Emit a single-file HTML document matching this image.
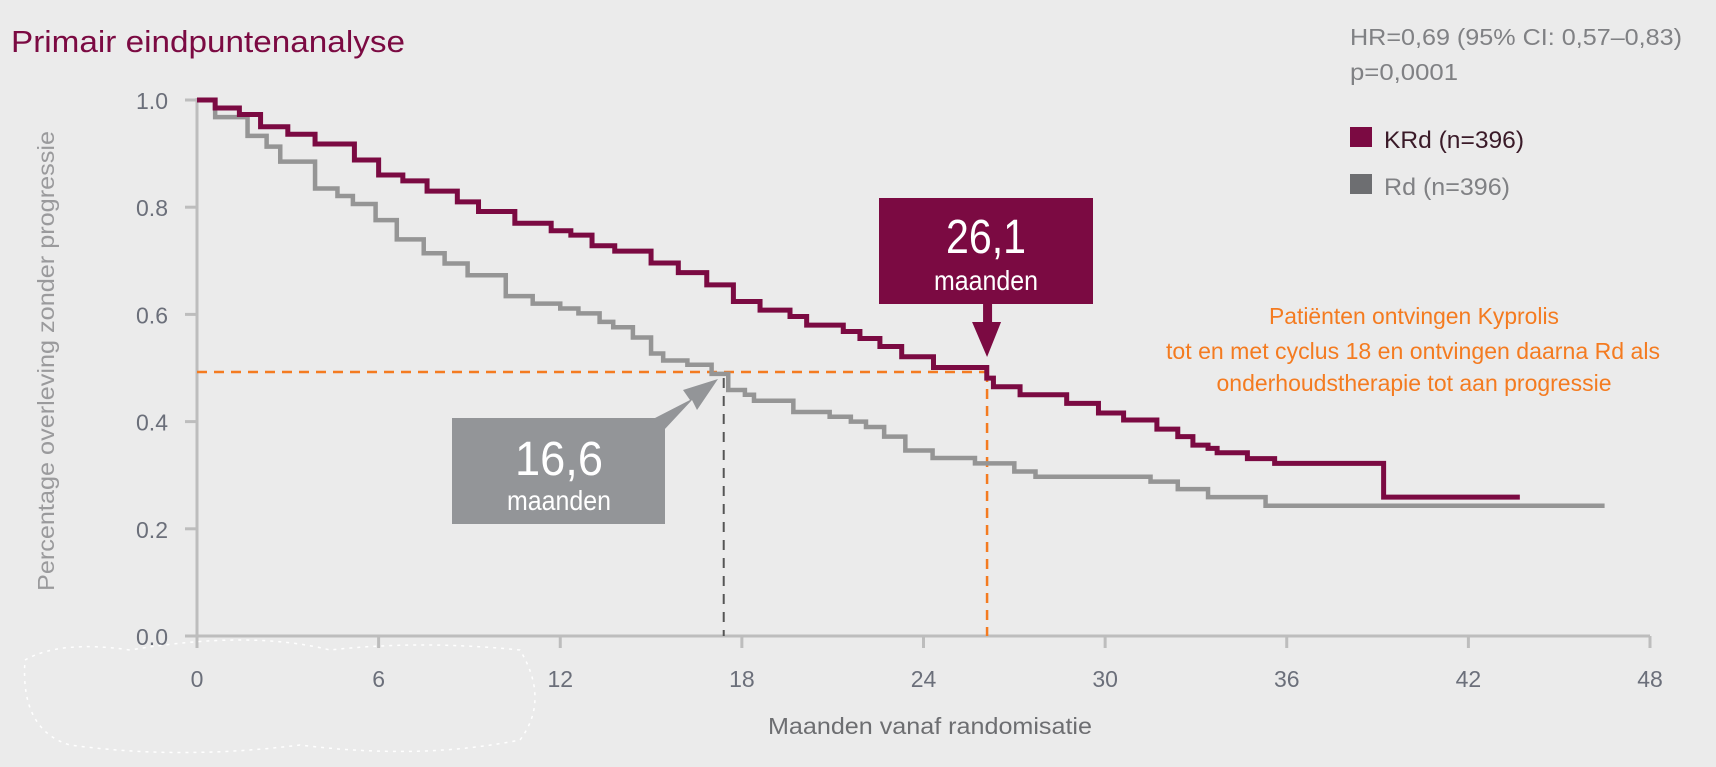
<!DOCTYPE html>
<html><head><meta charset="utf-8"><style>
html,body{margin:0;padding:0;background:#ebebeb;}
svg{display:block;font-family:"Liberation Sans",sans-serif;}
</style></head><body>
<svg id="chart" width="1716" height="767" viewBox="0 0 1716 767">
<rect x="0" y="0" width="1716" height="767" fill="#ebebeb"/>
<text x="11" y="52" font-size="31" fill="#7b0a42" textLength="394" lengthAdjust="spacingAndGlyphs">Primair eindpuntenanalyse</text>
<text x="1350" y="45" font-size="23" fill="#808184" textLength="332" lengthAdjust="spacingAndGlyphs">HR=0,69 (95% CI: 0,57–0,83)</text>
<text x="1350" y="80" font-size="23" fill="#808184" textLength="108" lengthAdjust="spacingAndGlyphs">p=0,0001</text>
<g>
<rect x="1350" y="127" width="22" height="20" fill="#7b0a42"/>
<text x="1384" y="148" font-size="24" fill="#3a1a28" textLength="140" lengthAdjust="spacingAndGlyphs">KRd (n=396)</text>
<rect x="1350" y="174" width="22" height="20" fill="#6d6e71"/>
<text x="1384" y="195" font-size="24" fill="#808184" textLength="126" lengthAdjust="spacingAndGlyphs">Rd (n=396)</text>
</g>
<g id="axes"></g>
<g id="plot"></g>
<g fill="#f47b20" font-size="23" text-anchor="middle">
<text x="1414" y="324" textLength="290" lengthAdjust="spacingAndGlyphs">Patiënten ontvingen Kyprolis</text>
<text x="1413" y="359" textLength="494" lengthAdjust="spacingAndGlyphs">tot en met cyclus 18 en ontvingen daarna Rd als</text>
<text x="1414" y="391" textLength="395" lengthAdjust="spacingAndGlyphs">onderhoudstherapie tot aan progressie</text>
</g>
<text x="930" y="734" font-size="23" fill="#6d6e71" text-anchor="middle" textLength="324" lengthAdjust="spacingAndGlyphs">Maanden vanaf randomisatie</text>
<text transform="translate(54,361) rotate(-90)" font-size="23" fill="#9a9a9c" text-anchor="middle" textLength="460" lengthAdjust="spacingAndGlyphs">Percentage overleving zonder progressie</text>
<path d="M25 660 Q60 640 130 650 Q250 630 330 650 Q420 640 520 650 Q550 700 520 740 Q420 760 300 745 Q180 760 70 745 Q20 730 25 660Z" fill="none" stroke="#ffffff" stroke-width="1.5" stroke-dasharray="3 5"/>
</svg>
<script>
const xTicks = [0, 6, 12, 18, 24, 30, 36, 42, 48];
const yTicks = [0.0, 0.2, 0.4, 0.6, 0.8, 1.0];
const yTickLabels = ["0.0", "0.2", "0.4", "0.6", "0.8", "1.0"];
const krdTimes = [0, 0.6, 1.4, 2.1, 3.0, 3.9, 5.2, 6.0, 6.8, 7.6, 8.6, 9.3, 10.5, 11.7, 12.35, 13.05, 13.8, 15.0, 15.9, 16.84, 17.72, 18.6, 19.59, 20.14, 21.35, 21.9, 22.56, 23.28, 24.33, 26.09, 26.31, 27.19, 28.73, 29.78, 30.61, 31.71, 32.4, 32.9, 33.4, 33.7, 34.7, 35.6, 39.2];
const krdSurv = [1.0, 0.985, 0.973, 0.950, 0.936, 0.918, 0.888, 0.860, 0.849, 0.830, 0.810, 0.792, 0.770, 0.756, 0.748, 0.728, 0.718, 0.696, 0.678, 0.655, 0.624, 0.608, 0.596, 0.580, 0.568, 0.555, 0.540, 0.521, 0.501, 0.481, 0.465, 0.450, 0.434, 0.416, 0.403, 0.386, 0.372, 0.356, 0.350, 0.342, 0.331, 0.322, 0.259];
const krdEnd = 43.7;
const rdTimes = [0, 0.6, 1.67, 2.3, 2.75, 3.9, 4.64, 5.15, 5.9, 6.6, 7.49, 8.18, 8.94, 10.2, 11.09, 12.0, 12.6, 13.3, 13.75, 14.4, 15.0, 15.4, 16.2, 17.0, 17.55, 18.1, 18.4, 19.7, 20.9, 21.6, 22.1, 22.7, 23.4, 24.3, 25.7, 27.0, 27.7, 31.5, 32.4, 33.4, 35.3];
const rdSurv = [1.0, 0.968, 0.933, 0.913, 0.885, 0.835, 0.821, 0.806, 0.776, 0.740, 0.714, 0.695, 0.673, 0.634, 0.620, 0.611, 0.602, 0.586, 0.576, 0.557, 0.527, 0.514, 0.506, 0.489, 0.459, 0.450, 0.439, 0.418, 0.409, 0.400, 0.390, 0.372, 0.346, 0.332, 0.322, 0.307, 0.297, 0.288, 0.274, 0.259, 0.243];
const rdEnd = 46.5;
const medianSurv = 0.4925;
const medianKrd = 26.1;
const medianRd = 17.4;

const NS = "http://www.w3.org/2000/svg";
const X0 = 197, X1 = 1650, Y0 = 636, Y1 = 100;
function xs(m){ return X0 + (m - 0) / 48 * (X1 - X0); }
function ys(v){ return Y0 - v * (Y0 - Y1); }
function mk(tag, attrs, parent){
  const e = document.createElementNS(NS, tag);
  for (const k in attrs) e.setAttribute(k, attrs[k]);
  parent.appendChild(e);
  return e;
}
const axes = document.getElementById('axes');
const plot = document.getElementById('plot');

// axes lines
const yAxis = mk('line', {x1: X0, y1: ys(1.0) - 2, x2: X0, y2: Y0 + 2, stroke: '#bdbdbd', 'stroke-width': 3}, axes);


const xAxis = mk('line', {x1: X0 - 12, y1: Y0, x2: X1, y2: Y0, stroke: '#bdbdbd', 'stroke-width': 3}, axes);



xTicks.forEach(function(t){
  const tk = mk('line', {x1: xs(t), y1: Y0, x2: xs(t), y2: Y0 + 12, stroke: '#bdbdbd', 'stroke-width': 3}, axes);
  
  
  const lb = mk('text', {x: xs(t), y: 687, 'font-size': 23, fill: '#6b6f7a', 'text-anchor': 'middle'}, axes);
  lb.textContent = String(t);
  
  
});
yTicks.forEach(function(v, i){
  const tk = mk('line', {x1: X0 - 12, y1: ys(v), x2: X0, y2: ys(v), stroke: '#bdbdbd', 'stroke-width': 3}, axes);
  
  
  const lb = mk('text', {x: 168, y: ys(v) + 9, 'font-size': 23, fill: '#6b6f7a', 'text-anchor': 'end'}, axes);
  lb.textContent = yTickLabels[i];
  
  
});

function stepPath(times, surv, end){
  let d = 'M' + xs(times[0]) + ' ' + ys(surv[0]);
  for (let i = 1; i < times.length; i++){
    d += ' H' + xs(times[i]) + ' V' + ys(surv[i]);
  }
  d += ' H' + xs(end);
  return d;
}

// median reference lines
const medH = mk('line', {x1: X0, y1: ys(medianSurv), x2: xs(medianKrd), y2: ys(medianSurv), stroke: '#f47b20', 'stroke-width': 2.5, 'stroke-dasharray': '10 7'}, plot);


const medK = mk('line', {x1: xs(medianKrd), y1: ys(medianSurv), x2: xs(medianKrd), y2: Y0, stroke: '#f47b20', 'stroke-width': 2.5, 'stroke-dasharray': '10 7'}, plot);


const medR = mk('line', {x1: xs(medianRd), y1: ys(medianSurv) + 6, x2: xs(medianRd), y2: Y0, stroke: '#555', 'stroke-width': 2, 'stroke-dasharray': '10 8'}, plot);



const rdLine = mk('path', {d: stepPath(rdTimes, rdSurv, rdEnd), fill: 'none', stroke: '#959595', 'stroke-width': 4.5}, plot);


const krdLine = mk('path', {d: stepPath(krdTimes, krdSurv, krdEnd), fill: 'none', stroke: '#7b0a42', 'stroke-width': 5}, plot);



// KRd callout
const kx = xs(medianKrd);
const kBox = mk('rect', {x: 879, y: 198, width: 214, height: 106, fill: '#7b0a42'}, plot);


const kArrow = mk('path', {d: 'M' + (kx - 4) + ' 304 V322 H' + (kx - 15) + ' L' + kx + ' 357 L' + (kx + 14) + ' 322 H' + (kx + 5) + ' V304 Z', fill: '#7b0a42'}, plot);


const kT1 = mk('text', {x: 986, y: 253, 'font-size': 48, fill: '#fff', 'text-anchor': 'middle', textLength: 80, lengthAdjust: 'spacingAndGlyphs'}, plot);
kT1.textContent = '26,1';


const kT2 = mk('text', {x: 986, y: 290, 'font-size': 28, fill: '#fff', 'text-anchor': 'middle', textLength: 104, lengthAdjust: 'spacingAndGlyphs'}, plot);
kT2.textContent = 'maanden';



// Rd callout
const rBox = mk('rect', {x: 452, y: 418, width: 213, height: 106, fill: '#939598'}, plot);


const rArrow = mk('path', {d: 'M655 418 L690 400 L683 390 L718 379 L697 410 L692 400 L664 430 Z', fill: '#939598'}, plot);


const rT1 = mk('text', {x: 559, y: 475, 'font-size': 48, fill: '#fff', 'text-anchor': 'middle', textLength: 88, lengthAdjust: 'spacingAndGlyphs'}, plot);
rT1.textContent = '16,6';


const rT2 = mk('text', {x: 559, y: 510, 'font-size': 28, fill: '#fff', 'text-anchor': 'middle', textLength: 104, lengthAdjust: 'spacingAndGlyphs'}, plot);
rT2.textContent = 'maanden';


</script>
</body></html>
